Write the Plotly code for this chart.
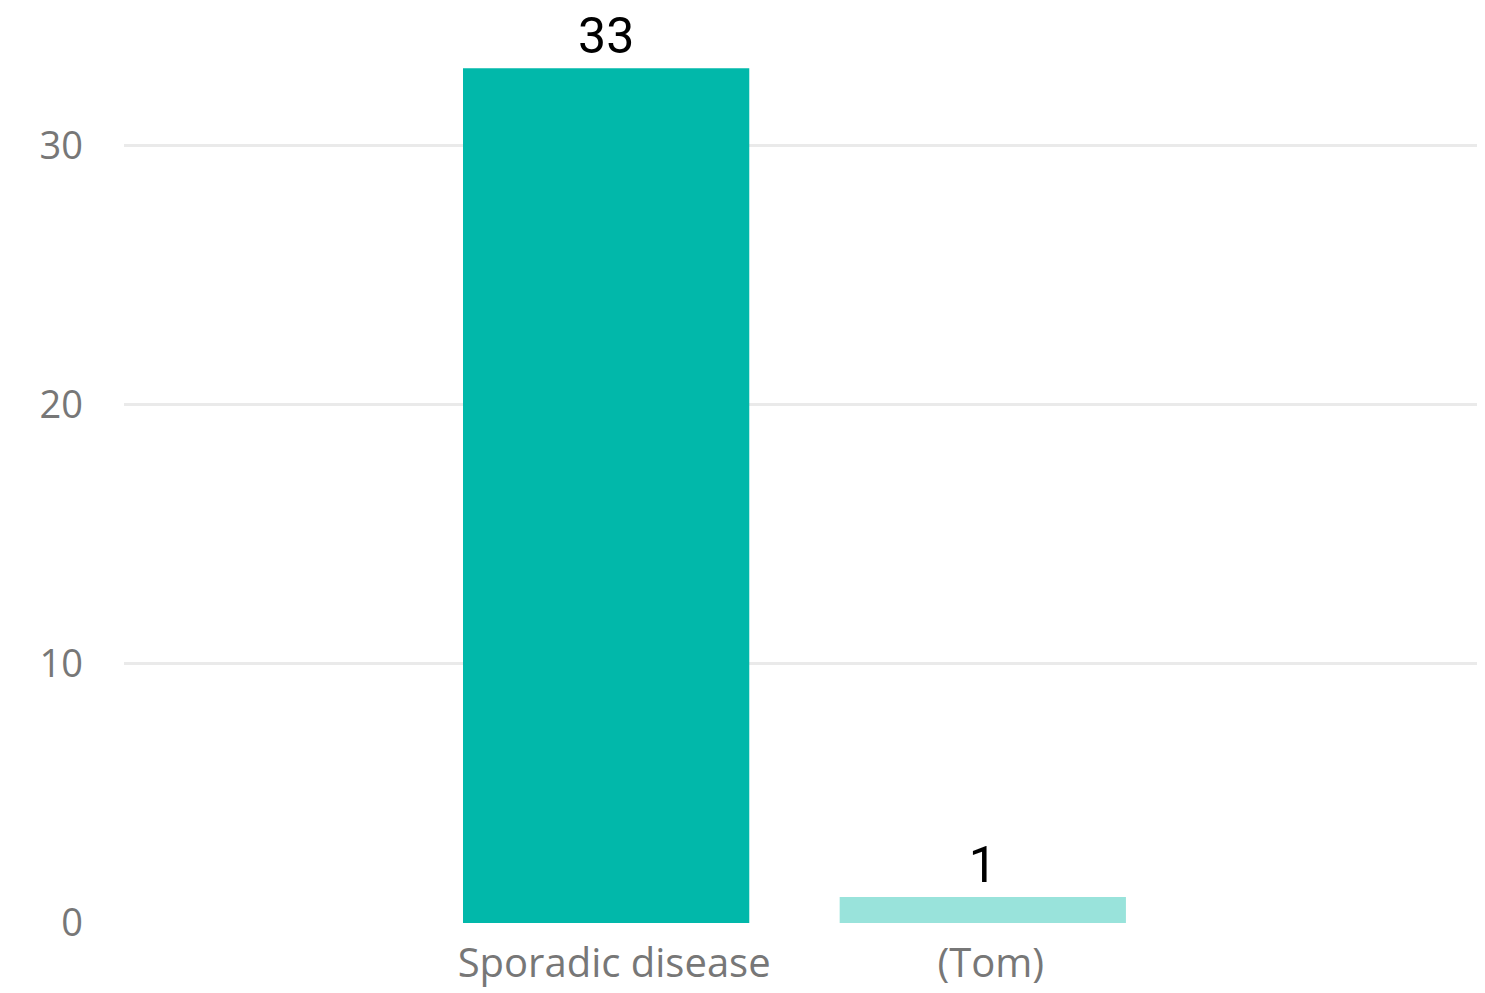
import plotly.graph_objects as go

categories = ["Sporadic disease", "(Tom)"]
counts = [33, 1]
bar_colors = ["#01B8AA", "#99E3DB"]
y_ticks = [0, 10, 20, 30]

fig = go.Figure()
fig.add_trace(
    go.Bar(
        x=categories, y=counts,
        marker=dict(color=bar_colors, line=dict(width=0)),
        width=0.76,
        text=[str(v) for v in counts],
        textposition="outside",
        textfont=dict(family="Roboto, Liberation Sans, sans-serif", size=50, color="#000000"),
        cliponaxis=False,
    )
)

fig.update_layout(
    width=1485, height=993,
    margin=dict(l=116, r=13, t=2, b=78),
    plot_bgcolor="white", paper_bgcolor="white",
    showlegend=False,
    font=dict(family="Segoe UI, Open Sans, sans-serif", color="#777777"),
    xaxis=dict(
        range=[-1.28, 2.32], showgrid=False, zeroline=False, showline=False,
        tickfont=dict(size=40, color="#777777"), ticklabelstandoff=13, ticklabelshift=8,
    ),
    yaxis=dict(
        range=[0, 35.25], tickvals=y_ticks, showgrid=True, gridcolor="#EAEAEA", gridwidth=3,
        zeroline=False, showline=False,
        tickfont=dict(size=38, color="#777777"), ticklabelstandoff=40,
    ),
)

fig.write_html("out.html")
